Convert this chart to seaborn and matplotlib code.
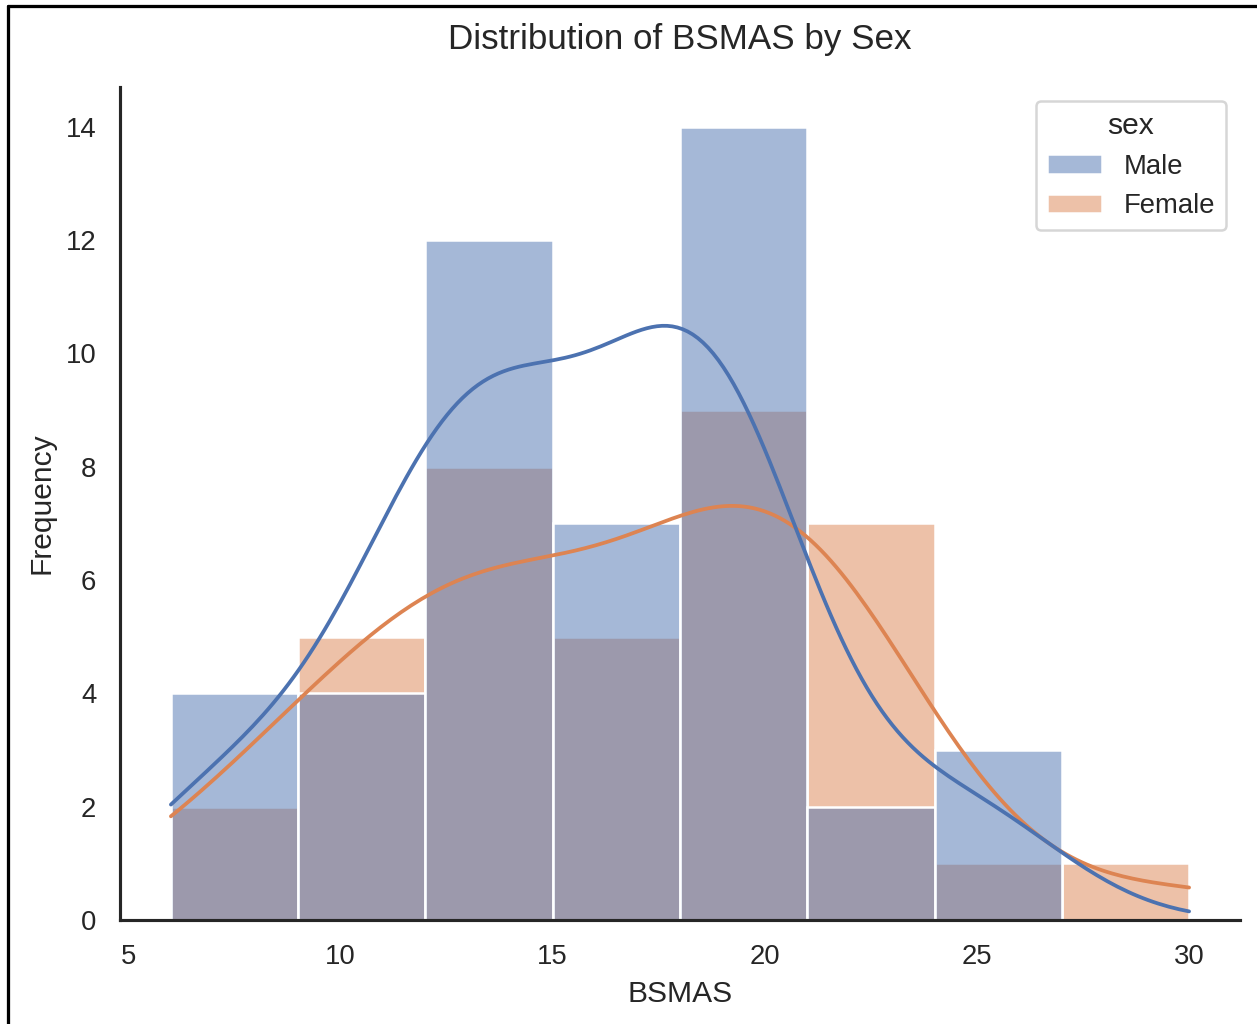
import numpy as np
import pandas as pd
import matplotlib
matplotlib.use("Agg")
import matplotlib.pyplot as plt
import seaborn as sns
from matplotlib.lines import Line2D

# BSMAS scores by sex (integer scores, consistent with histogram bins of width 3 from 6 to 30)
male_scores = [6, 7, 8, 8,
               10, 11, 11, 11,
               12, 12, 12, 13, 13, 13, 13, 14, 14, 14, 14, 14,
               15, 15, 16, 16, 17, 17, 17,
               18, 18, 18, 18, 18, 19, 19, 19, 19, 19, 19, 20, 20, 20,
               21, 23,
               24, 25, 26]
female_scores = [6, 7,
                 9, 9, 10, 10, 11,
                 12, 12, 13, 13, 13, 14, 14, 14,
                 15, 16, 16, 17, 17,
                 18, 18, 19, 19, 19, 20, 20, 20, 20,
                 21, 21, 22, 22, 22, 23, 23,
                 25,
                 30]
sex_order = ["Male", "Female"]

df = pd.DataFrame({
    "BSMAS": male_scores + female_scores,
    "sex": ["Male"] * len(male_scores) + ["Female"] * len(female_scores),
})

sns.set_theme(style="white")
plt.rcParams["font.family"] = ["Liberation Sans", "DejaVu Sans"]

DPI = 180
fig = plt.figure(figsize=(1257/DPI, 1024/DPI), dpi=DPI)
ax = fig.add_axes([120/1257, 1 - 920/1024, (1240-120)/1257, (920-87)/1024])
sns.histplot(data=df, x="BSMAS", hue="sex", hue_order=sex_order, bins=8,
             binrange=(6, 30), kde=True, ax=ax)
sns.despine(ax=ax)
ax.set_title("Distribution of BSMAS by Sex", fontsize=14, pad=15)
ax.set_xlabel("BSMAS", fontsize=12)
ax.set_ylabel("Frequency", fontsize=12)
ax.tick_params(labelsize=11)

fig.add_artist(Line2D([8/1257, 8/1257], [0, 1 - 6/1024], color="black", lw=1.3,
                      transform=fig.transFigure))
fig.add_artist(Line2D([8/1257, 1], [1 - 6/1024, 1 - 6/1024], color="black", lw=1.3,
                      transform=fig.transFigure))

fig.savefig("out.png", dpi=DPI)
